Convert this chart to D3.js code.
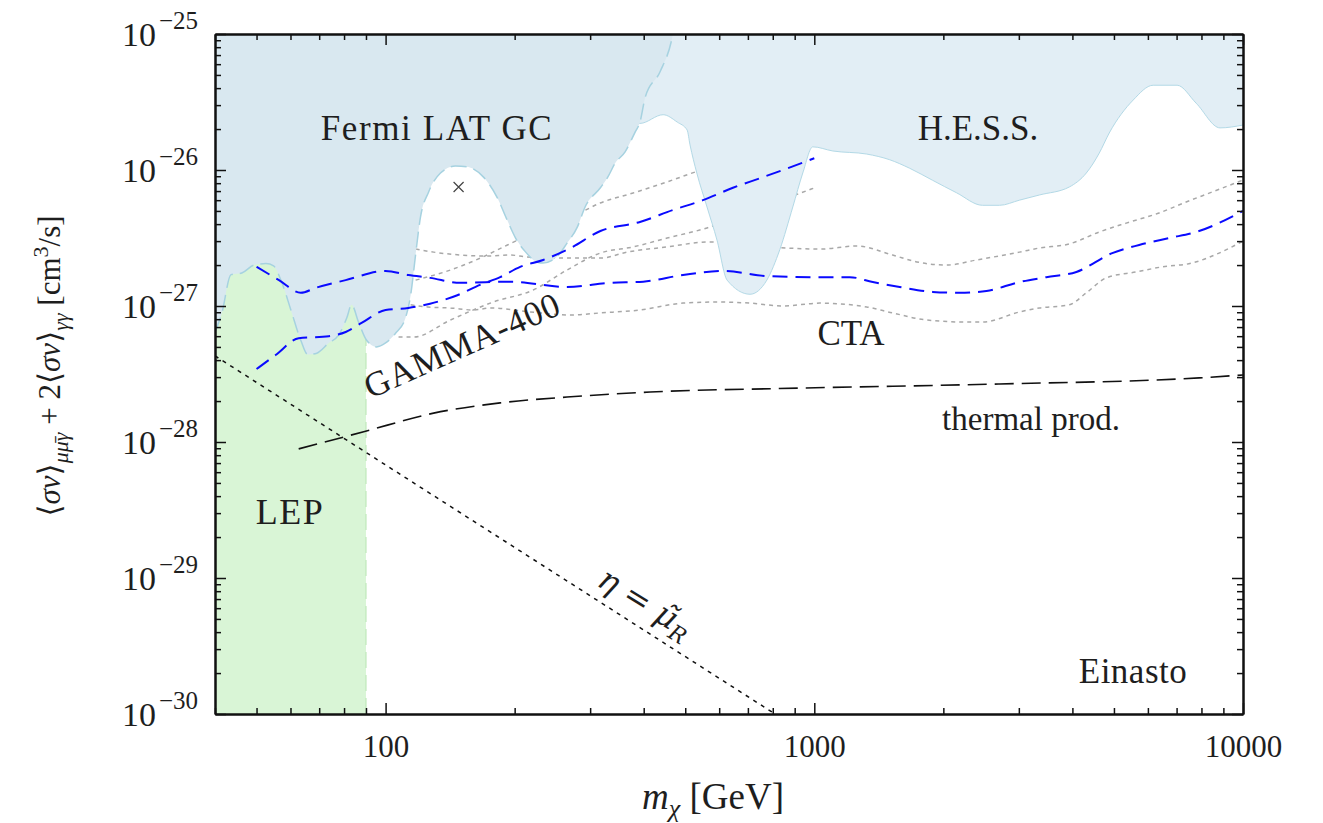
<!DOCTYPE html>
<html>
<head>
<meta charset="utf-8">
<script src="https://cdn.jsdelivr.net/npm/d3@7"></script>
<style>
  body { margin: 0; background: #fff; }
  svg text { font-family: 'Liberation Serif', 'DejaVu Serif', serif; fill: #1e1e1e; }
</style>
</head>
<body>
<svg id="chart" width="1323" height="823"></svg>
<script>
// ---- data: [m_chi (GeV), <sigma v> (cm^3/s)] ----
const xDomain = [40, 10000];
const yDomain = [1e-30, 1e-25];
const xMajorTicks = [100, 1000, 10000];
const yMajorTicks = [1e-30, 1e-29, 1e-28, 1e-27, 1e-26, 1e-25];
const yTickExponents = ['\u221230', '\u221229', '\u221228', '\u221227', '\u221226', '\u221225'];

// Fermi LAT GC limit (lower edge of excluded region)
const fermiGC = [[40,6.4e-28],[41.5,8.9e-28],[43.6,1.7e-27],[46.2,1.75e-27],[49.3,2.0e-27],[52.6,2.05e-27],
  [54.8,1.97e-27],[57.3,1.48e-27],[60.1,9.4e-28],[63.4,5.6e-28],[65.8,4.4e-28],[69.1,4.5e-28],[73.7,5.35e-28],
  [77.7,6.1e-28],[81.2,8.2e-28],[83.3,1.02e-27],[86.5,7.6e-28],[90.3,5.6e-28],[95.3,5.0e-28],[100,5.35e-28],
  [105.5,6.3e-28],[111.3,8.2e-28],[114.4,1.2e-27],[117.5,2.4e-27],[120.6,4.5e-27],[126,6.9e-27],[134.3,9.5e-27],
  [145.5,1.07e-26],[156,1.05e-26],[169,8.9e-27],[182,6.3e-27],[192,4.3e-27],[201,3.16e-27],[212,2.5e-27],
  [226,2.1e-27],[233,2.07e-27],[251,2.3e-27],[265,2.9e-27],[280,3.8e-27],[292,5.35e-27],[317,7.4e-27],
  [330,8.9e-27],[343,1.12e-26],[362,1.36e-26],[382,1.9e-26],[392,2.25e-26],[403,3.4e-26],[437,5.3e-26],
  [466,9.4e-26],[475,1.3e-25]];

// H.E.S.S. limit
const hess = [[300,2.8e-26],[392,2.2e-26],[444,2.55e-26],[479,2.25e-26],[505,1.97e-26],[513,1.53e-26],
  [532,9.5e-27],[562,5.35e-27],[593,3.05e-27],[626,1.55e-27],[708,1.22e-27],[775,1.55e-27],[831,2.6e-27],
  [891,5.35e-27],[940,9.5e-27],[992,1.48e-26],[1104,1.38e-26],[1325,1.31e-26],[1499,1.19e-26],[1669,1.03e-26],
  [1888,8.4e-27],[2147,6.8e-27],[2468,5.5e-27],[2704,5.5e-27],[3010,6.0e-27],[3350,6.55e-27],[3934,7.5e-27],
  [4310,9.5e-27],[4620,1.33e-26],[4875,1.87e-26],[5545,3.27e-26],[6172,4.2e-26],[7020,4.2e-26],[7775,3.1e-26],
  [8840,2.04e-26],[10000,2.14e-26]];

// LEP bound on the mass
const lepRange = [40, 90];

// CTA projection and its band
const cta = [[50,1.94e-27],[56.4,1.55e-27],[63.4,1.25e-27],[68.7,1.36e-27],[80.7,1.55e-27],[100,1.81e-27],
  [113,1.69e-27],[127,1.61e-27],[149.5,1.48e-27],[195,1.51e-27],[265,1.38e-27],[334,1.48e-27],[399,1.51e-27],
  [494,1.69e-27],[612,1.81e-27],[775,1.66e-27],[1000,1.63e-27],[1210,1.63e-27],[1369,1.5e-27],[1582,1.38e-27],
  [1888,1.27e-27],[2183,1.25e-27],[2521,1.29e-27],[3010,1.5e-27],[3477,1.63e-27],[4086,1.78e-27],[4955,2.45e-27],
  [5726,2.81e-27],[6726,3.16e-27],[7775,3.5e-27],[10000,5.0e-27]];
const ctaUpper = [[117.5,2.62e-27],[129.4,2.49e-27],[149.5,2.37e-27],[172.8,2.33e-27],[195.4,2.37e-27],
  [214,2.29e-27],[256,2.25e-27],[317,2.25e-27],[366,2.49e-27],[453,2.72e-27],[571,2.96e-27],[708,2.8e-27],
  [863,2.67e-27],[1030,2.62e-27],[1256,2.76e-27],[1523,2.37e-27],[1733,2.11e-27],[2035,2.0e-27],[2390,2.18e-27],
  [3010,2.49e-27],[3350,2.67e-27],[3934,2.86e-27],[4620,3.5e-27],[5341,4.07e-27],[6373,4.83e-27],[7369,5.82e-27],
  [8470,6.89e-27],[10000,8.44e-27]];
const ctaLower = [[114.4,1.02e-27],[125.3,9.84e-28],[141.7,9.67e-28],[160.3,9.35e-28],[175.6,9.67e-28],
  [217.6,9.04e-28],[269.6,8.59e-28],[316.7,8.89e-28],[392.5,9.35e-28],[494,1.05e-27],[593,1.07e-27],[708,1.05e-27],
  [845,1.0e-27],[1030,1.05e-27],[1325,9.84e-28],[1523,8.89e-28],[1828,7.89e-28],[2265,7.62e-28],[2468,7.62e-28],
  [3010,9.04e-28],[3350,9.67e-28],[3934,1.02e-27],[4310,1.25e-27],[4797,1.61e-27],[5636,1.78e-27],[6477,1.94e-27],
  [7607,2.07e-27],[8794,2.45e-27],[10000,3.0e-27]];

// GAMMA-400 projection and its band
const gamma400 = [[50,3.44e-28],[55.4,4.36e-28],[62.7,5.8e-28],[73.7,6.0e-28],[80.7,6.44e-28],[87.9,7.5e-28],
  [100,9.35e-28],[113,9.67e-28],[127,1.04e-27],[147,1.2e-27],[166,1.43e-27],[185,1.63e-27],[206,1.94e-27],
  [233,2.18e-27],[270,2.67e-27],[317,3.56e-27],[392,4.15e-27],[468,5.08e-27],[550,6.0e-27],[646,7.4e-27],
  [747,8.7e-27],[845,1.0e-26],[1000,1.22e-26]];
const gammaUpper = [[117.5,1.55e-27],[141.7,1.84e-27],[166.4,2.25e-27],[192.4,2.81e-27],[229.6,3.62e-27],
  [269.6,4.44e-27],[316.7,5.72e-27],[378,6.78e-27],[453.5,8.17e-27],[527,9.66e-27],[671,1.22e-26],[831,1.53e-26],
  [1000,1.9e-26]];
const gammaLower = [[107.2,5.91e-28],[116.2,5.91e-28],[141.7,7.89e-28],[178.4,1.07e-27],[221,1.31e-27],
  [265,1.84e-27],[316.7,2.45e-27],[378,2.72e-27],[453.5,3.16e-27],[562,3.75e-27],[708,4.91e-27],[877,6.33e-27],
  [1000,7.38e-27]];

// thermal production and eta = mu_R lines
const thermal = [[62.7,8.9e-29],[88.9,1.19e-28],[129.4,1.63e-28],[185,1.94e-28],[265,2.14e-28],[414,2.33e-28],
  [925,2.49e-28],[2704,2.67e-28],[7900,2.96e-28],[10000,3.11e-28]];
const etaLine = [[40,4.3e-28],[810,1.0e-30]];

// line-signal marker
const marker = [148, 7.5e-27];

// ---- chart ----
const svg = d3.select('#chart');
const x = d3.scaleLog().domain(xDomain).range([215, 1243]);
const y = d3.scaleLog().domain(yDomain).range([714, 34]);

svg.append('defs').append('clipPath').attr('id', 'plot')
  .append('rect')
  .attr('x', x(xDomain[0])).attr('y', y(yDomain[1]))
  .attr('width', x(xDomain[1]) - x(xDomain[0]))
  .attr('height', y(yDomain[0]) - y(yDomain[1]));

const g = svg.append('g').attr('clip-path', 'url(#plot)');

const line = d3.line().x(d => x(d[0])).y(d => y(d[1])).curve(d3.curveMonotoneX);
const straight = d3.line().x(d => x(d[0])).y(d => y(d[1]));
const areaTop = d3.area().x(d => x(d[0])).y0(d => y(d[1])).y1(y(yDomain[1])).curve(d3.curveMonotoneX);

// LEP
g.append('rect')
  .attr('x', x(lepRange[0])).attr('y', y(yDomain[1]))
  .attr('width', x(lepRange[1]) - x(lepRange[0]))
  .attr('height', y(yDomain[0]) - y(yDomain[1]))
  .attr('fill', '#d9f5d6');
g.append('line')
  .attr('x1', x(lepRange[1])).attr('x2', x(lepRange[1]))
  .attr('y1', y(yDomain[0])).attr('y2', y(yDomain[1]))
  .attr('stroke', '#bfe8bb').attr('stroke-width', 1.2).attr('stroke-dasharray', '16,7');

// uncertainty bands (grey dotted)
[ctaUpper, ctaLower, gammaUpper, gammaLower].forEach(d => {
  g.append('path').datum(d).attr('d', line)
    .attr('fill', 'none').attr('stroke', '#a8a8a8')
    .attr('stroke-width', 1.5).attr('stroke-dasharray', '4,4');
});

// H.E.S.S. region
g.append('path').datum(hess).attr('d', areaTop).attr('fill', '#e2eef5');
g.append('path').datum(hess).attr('d', line)
  .attr('fill', 'none').attr('stroke', '#b3d9e6').attr('stroke-width', 1);

// Fermi region
g.append('path').datum(fermiGC).attr('d', areaTop).attr('fill', '#d9e8f0');
g.append('path').datum(fermiGC).attr('d', line)
  .attr('fill', 'none').attr('stroke', '#a6d2e0').attr('stroke-width', 1.5)
  .attr('stroke-dasharray', '16,7');

// black lines
g.append('path').datum(thermal).attr('d', line)
  .attr('fill', 'none').attr('stroke', '#111').attr('stroke-width', 1.6)
  .attr('stroke-dasharray', '19,8');
g.append('path').datum(etaLine).attr('d', straight)
  .attr('fill', 'none').attr('stroke', '#111').attr('stroke-width', 1.5)
  .attr('stroke-dasharray', '4,5');

// projections (blue dashed)
[cta, gamma400].forEach(d => {
  g.append('path').datum(d).attr('d', line)
    .attr('fill', 'none').attr('stroke', '#0a0aff')
    .attr('stroke-width', 2).attr('stroke-dasharray', '15,8');
});

// marker
const mx = x(marker[0]), my = y(marker[1]);
g.append('path')
  .attr('d', `M${mx - 5},${my - 5}L${mx + 5},${my + 5}M${mx - 5},${my + 5}L${mx + 5},${my - 5}`)
  .attr('stroke', '#444').attr('stroke-width', 1.2);

// ---- axes ----
const xMinor = [];
const yMinor = [];
[10, 100, 1000].forEach(b => { for (let k = 2; k <= 9; k++) if (b * k >= xDomain[0] && b * k <= xDomain[1]) xMinor.push(b * k); });
for (let e = -30; e < -25; e++) for (let k = 2; k <= 9; k++) yMinor.push(k * Math.pow(10, e));

function styleAxis(sel) {
  sel.select('.domain').attr('stroke', '#111').attr('stroke-width', 2);
  sel.selectAll('.tick line').attr('stroke', '#111').attr('stroke-width', 1.5);
}

const axBottom = svg.append('g').attr('transform', `translate(0,${y(yDomain[0])})`);
axBottom.call(d3.axisBottom(x).tickValues(xMajorTicks).tickSizeInner(-11).tickSizeOuter(0)
  .tickPadding(21).tickFormat(d3.format('d')));
axBottom.selectAll('.tick text').attr('font-size', 31).attr('font-family', "'Liberation Serif', serif")
  .attr('fill', '#1e1e1e').attr('dy', '0.71em');
styleAxis(axBottom);
const axBottomMinor = svg.append('g').attr('transform', `translate(0,${y(yDomain[0])})`)
  .call(d3.axisBottom(x).tickValues(xMinor).tickSizeInner(-6).tickSizeOuter(0).tickFormat(''));
styleAxis(axBottomMinor);

const axTop = svg.append('g').attr('transform', `translate(0,${y(yDomain[1])})`)
  .call(d3.axisTop(x).tickValues(xMajorTicks).tickSizeInner(-11).tickSizeOuter(0).tickFormat(''));
styleAxis(axTop);
const axTopMinor = svg.append('g').attr('transform', `translate(0,${y(yDomain[1])})`)
  .call(d3.axisTop(x).tickValues(xMinor).tickSizeInner(-6).tickSizeOuter(0).tickFormat(''));
styleAxis(axTopMinor);

const axLeft = svg.append('g').attr('transform', `translate(${x(xDomain[0])},0)`)
  .call(d3.axisLeft(y).tickValues(yMajorTicks).tickSizeInner(-11).tickSizeOuter(0).tickFormat(''));
styleAxis(axLeft);
const axLeftMinor = svg.append('g').attr('transform', `translate(${x(xDomain[0])},0)`)
  .call(d3.axisLeft(y).tickValues(yMinor).tickSizeInner(-6).tickSizeOuter(0).tickFormat(''));
styleAxis(axLeftMinor);

const axRight = svg.append('g').attr('transform', `translate(${x(xDomain[1])},0)`)
  .call(d3.axisRight(y).tickValues(yMajorTicks).tickSizeInner(-11).tickSizeOuter(0).tickFormat(''));
styleAxis(axRight);
const axRightMinor = svg.append('g').attr('transform', `translate(${x(xDomain[1])},0)`)
  .call(d3.axisRight(y).tickValues(yMinor).tickSizeInner(-6).tickSizeOuter(0).tickFormat(''));
styleAxis(axRightMinor);

// y tick labels 10^n
yMajorTicks.forEach((v, i) => {
  const t = svg.append('text').attr('x', 198).attr('y', y(v) + 12).attr('text-anchor', 'end');
  t.append('tspan').attr('font-size', 34).text('10');
  t.append('tspan').attr('font-size', 25).attr('dy', -17).attr('dx', 3).text(yTickExponents[i]);
});

// rich text helper
function rich(sel, parts) {
  parts.forEach(p => {
    const s = sel.append('tspan').text(p.t);
    if (p.i) s.attr('font-style', 'italic');
    if (p.dy) s.attr('dy', p.dy);
    if (p.fs) s.attr('font-size', p.fs);
  });
}

// x title
const xt = svg.append('text').attr('x', 713).attr('y', 809).attr('text-anchor', 'middle').attr('font-size', 37);
rich(xt, [{t: 'm', i: true}, {t: '\u03c7', i: true, dy: 8, fs: 26}, {t: ' [GeV]', dy: -8}]);

// y title
const yt = svg.append('text').attr('transform', 'translate(60,366) rotate(-90)')
  .attr('text-anchor', 'middle').attr('font-size', 31);
rich(yt, [
  {t: '\u27e8'}, {t: '\u03c3v', i: true}, {t: '\u27e9'},
  {t: '\u03bc\u03bc\u0304\u03b3', i: true, dy: 8, fs: 22},
  {t: ' + 2\u27e8', dy: -8}, {t: '\u03c3v', i: true}, {t: '\u27e9'},
  {t: '\u03b3\u03b3', i: true, dy: 8, fs: 22},
  {t: ' [cm', dy: -8}, {t: '3', dy: -12, fs: 22}, {t: '/s]', dy: 12}
]);

// annotations: [text, x, y, size, letter spacing]
const ann = [
  ['Fermi LAT GC', 437, 140, 35, 1.6],
  ['H.E.S.S.', 978, 140, 35, 0],
  ['CTA', 851, 345, 35, 0],
  ['thermal prod.', 1031, 430, 33, 0],
  ['LEP', 290, 524, 36, 1.5],
  ['Einasto', 1133, 683, 35, 0.5]
];
ann.forEach(a => {
  svg.append('text').attr('x', a[1]).attr('y', a[2]).attr('text-anchor', 'middle')
    .attr('font-size', a[3]).attr('letter-spacing', a[4]).text(a[0]);
});
svg.append('text').attr('transform', 'translate(467,356) rotate(-24)')
  .attr('text-anchor', 'middle').attr('font-size', 35).attr('letter-spacing', 1).text('GAMMA-400');
const eta = svg.append('text').attr('transform', 'translate(640,612) rotate(31.5)')
  .attr('text-anchor', 'middle').attr('font-size', 32).style('font-family', "'DejaVu Serif', serif");
rich(eta, [{t: '\u03b7', i: true}, {t: ' = '}, {t: '\u03bc\u0303', i: true}, {t: 'R', i: true, dy: 7, fs: 22}]);
</script>
</body>
</html>
